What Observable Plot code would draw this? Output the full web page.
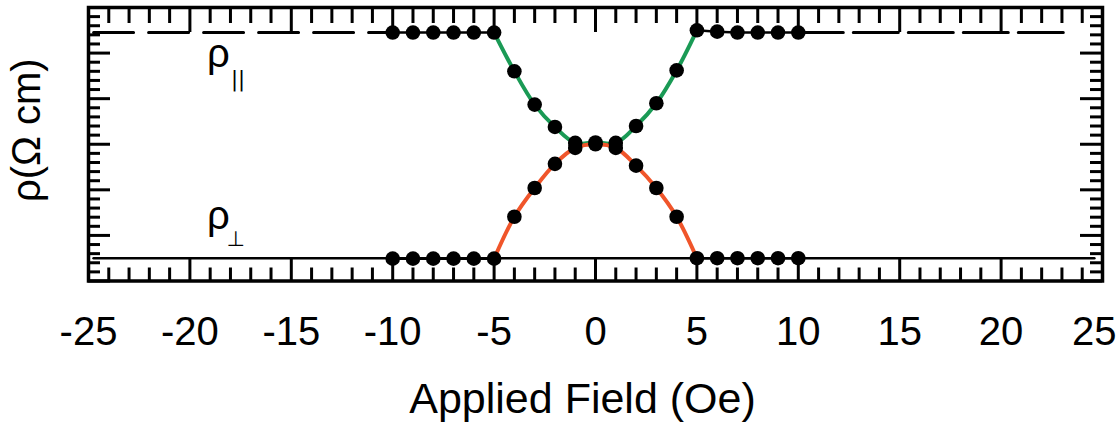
<!DOCTYPE html>
<html>
<head>
<meta charset="utf-8">
<script src="https://cdn.jsdelivr.net/npm/d3@7"></script>
<script src="https://cdn.jsdelivr.net/npm/@observablehq/plot@0.6"></script>
<style>
  html, body { margin: 0; padding: 0; background: #fff; }
</style>
</head>
<body>
<div id="chart"></div>
<script>
// ---- data ----
const field      = [-10, -9, -8, -7, -6, -5, -4, -3, -2, -1, 0, 1, 2, 3, 4, 5, 6, 7, 8, 9, 10];
const rhoPar     = [5.45, 5.45, 5.45, 5.45, 5.45, 5.45, 4.6, 3.87, 3.38, 3.03, 3.04, 3.03, 3.4, 3.9, 4.62, 5.5, 5.47, 5.45, 5.45, 5.45, 5.45];
const rhoPerp    = [0.49, 0.49, 0.49, 0.49, 0.49, 0.49, 1.41, 2.04, 2.57, 2.92, 3.0, 2.92, 2.53, 2.04, 1.41, 0.5, 0.5, 0.5, 0.5, 0.5, 0.5];
// extrapolated saturation levels outside the measured range
const parLevel   = 5.45;
const perpLevel  = 0.5;
const parExtLeft  = [-24.75, -10];
const parExtRight = [10, 23.4];
const perpExt     = [-24.75, 24.6];
// axis ticks
const xTickLabels = [-25, -20, -15, -10, -5, 0, 5, 10, 15, 20, 25];
const yMajorTicks = [0, 1, 2, 3, 4, 5, 6];
const xLabel = ["Applied Field (Oe)"];
const yLabel = ["ρ(Ω cm)"];
const annotations = [
  {text: "ρ",  sub: "||", field: -18.6, rho: 4.97, subField: -17.63, subRho: 4.43},
  {text: "ρ",  sub: "⊥",  field: -18.6, rho: 1.42, subField: -17.75, subRho: 0.91}
];

// ---- derived tables ----
const rows = field.map((f, i) => ({field: f, par: rhoPar[i], perp: rhoPerp[i]}));
const central = rows.filter(d => d.field >= -5 && d.field <= 5);
const flatLeft = rows.filter(d => d.field <= -5);
const flatRight = rows.filter(d => d.field >= 5);
const xMinor = d3.range(-25, 26, 1).filter(v => v % 5 !== 0);
const yMinor = d3.range(0, 6.001, 0.2).map(v => +v.toFixed(1)).filter(v => Math.abs(v - Math.round(v)) > 1e-6);
const xLabelsInner = xTickLabels.filter(v => v < d3.max(xTickLabels));
const xLabelsLast = [d3.max(xTickLabels)];

const W = 1119, H = 423;
const mL = 88, mR = 17, mT = 7, mB = 142.5;
const plotW = W - mL - mR, plotH = H - mT - mB;
const font = "'Liberation Sans', Arial, Helvetica, sans-serif";
const GREEN = "#1a9a55", ORANGE = "#f0552a";

const chart = Plot.plot({
  width: W, height: H,
  marginLeft: mL, marginRight: mR, marginTop: mT, marginBottom: mB,
  style: {fontFamily: font, background: "#fff", color: "#000"},
  x: {domain: [-25, 25]},
  y: {domain: [0, 6], axis: null},
  marks: [
    // extrapolated levels
    Plot.line(parExtLeft, {x: d => d, y: () => parLevel, stroke: "#000", strokeWidth: 3, strokeDasharray: "40,15"}),
    Plot.line(parExtRight, {x: d => d, y: () => parLevel, stroke: "#000", strokeWidth: 3, strokeDasharray: "45,10"}),
    Plot.line(perpExt, {x: d => d, y: () => perpLevel, stroke: "#000", strokeWidth: 2.5}),
    // flat measured segments
    Plot.line(flatLeft, {x: "field", y: "par", stroke: "#000", strokeWidth: 2.5}),
    Plot.line(flatRight, {x: "field", y: "par", stroke: "#000", strokeWidth: 2.5}),
    Plot.line(flatLeft, {x: "field", y: "perp", stroke: "#000", strokeWidth: 2.5}),
    Plot.line(flatRight, {x: "field", y: "perp", stroke: "#000", strokeWidth: 2.5}),
    // fitted curves
    Plot.line(central, {x: "field", y: "par", stroke: GREEN, strokeWidth: 4, curve: "catmull-rom"}),
    Plot.line(central, {x: "field", y: "perp", stroke: ORANGE, strokeWidth: 4, curve: "catmull-rom"}),
    // data points
    Plot.dot(rows, {x: "field", y: "par", r: 7.3, fill: "#000", stroke: "none"}),
    Plot.dot(rows, {x: "field", y: "perp", r: 7.3, fill: "#000", stroke: "none"}),
    // inward ticks: top
    Plot.tickX(xMinor, {x: d => d, insetBottom: plotH - 16, stroke: "#000", strokeWidth: 3}),
    Plot.tickX(xTickLabels, {x: d => d, insetBottom: plotH - 25, stroke: "#000", strokeWidth: 3}),
    // bottom
    Plot.tickX(xMinor, {x: d => d, insetTop: plotH - 13, stroke: "#000", strokeWidth: 3}),
    Plot.tickX(xTickLabels, {x: d => d, insetTop: plotH - 22, stroke: "#000", strokeWidth: 3}),
    // left
    Plot.tickY(yMinor, {y: d => d, insetRight: plotW - 12, stroke: "#000", strokeWidth: 3}),
    Plot.tickY(yMajorTicks, {y: d => d, insetRight: plotW - 22, stroke: "#000", strokeWidth: 3}),
    // right
    Plot.tickY(yMinor, {y: d => d, insetLeft: plotW - 12, stroke: "#000", strokeWidth: 3}),
    Plot.tickY(yMajorTicks, {y: d => d, insetLeft: plotW - 22, stroke: "#000", strokeWidth: 3}),
    Plot.frame({stroke: "#000", strokeWidth: 3.5}),
    // tick labels
    Plot.axisX({anchor: "bottom", ticks: xLabelsInner, tickSize: 0, tickPadding: 36,
      tickFormat: d => String(d), fontSize: 40, label: null}),
    Plot.axisX({anchor: "bottom", ticks: xLabelsLast, tickSize: 0, tickPadding: 36,
      tickFormat: d => String(d), fontSize: 40, label: null, textAnchor: "end", dx: 14}),
    // axis titles
    Plot.text(xLabel, {frameAnchor: "bottom", text: d => d, dx: -13, dy: 118, lineAnchor: "middle",
      textAnchor: "middle", fontSize: 43, fill: "#000"}),
    Plot.text(yLabel, {frameAnchor: "left", text: d => d, rotate: -90, dx: -61, dy: -14,
      lineAnchor: "middle", textAnchor: "middle", fontSize: 40, fill: "#000"}),
    // curve labels
    Plot.text(annotations, {x: "field", y: "rho", text: "text", fontSize: 40, lineAnchor: "middle",
      textAnchor: "middle", fill: "#000"}),
    Plot.text(annotations, {x: "subField", y: "subRho", text: "sub", fontSize: 21, lineAnchor: "middle",
      textAnchor: "middle", fill: "#000", fontFamily: "'DejaVu Sans', sans-serif"})
  ]
});
document.getElementById("chart").appendChild(chart);
</script>
</body>
</html>
